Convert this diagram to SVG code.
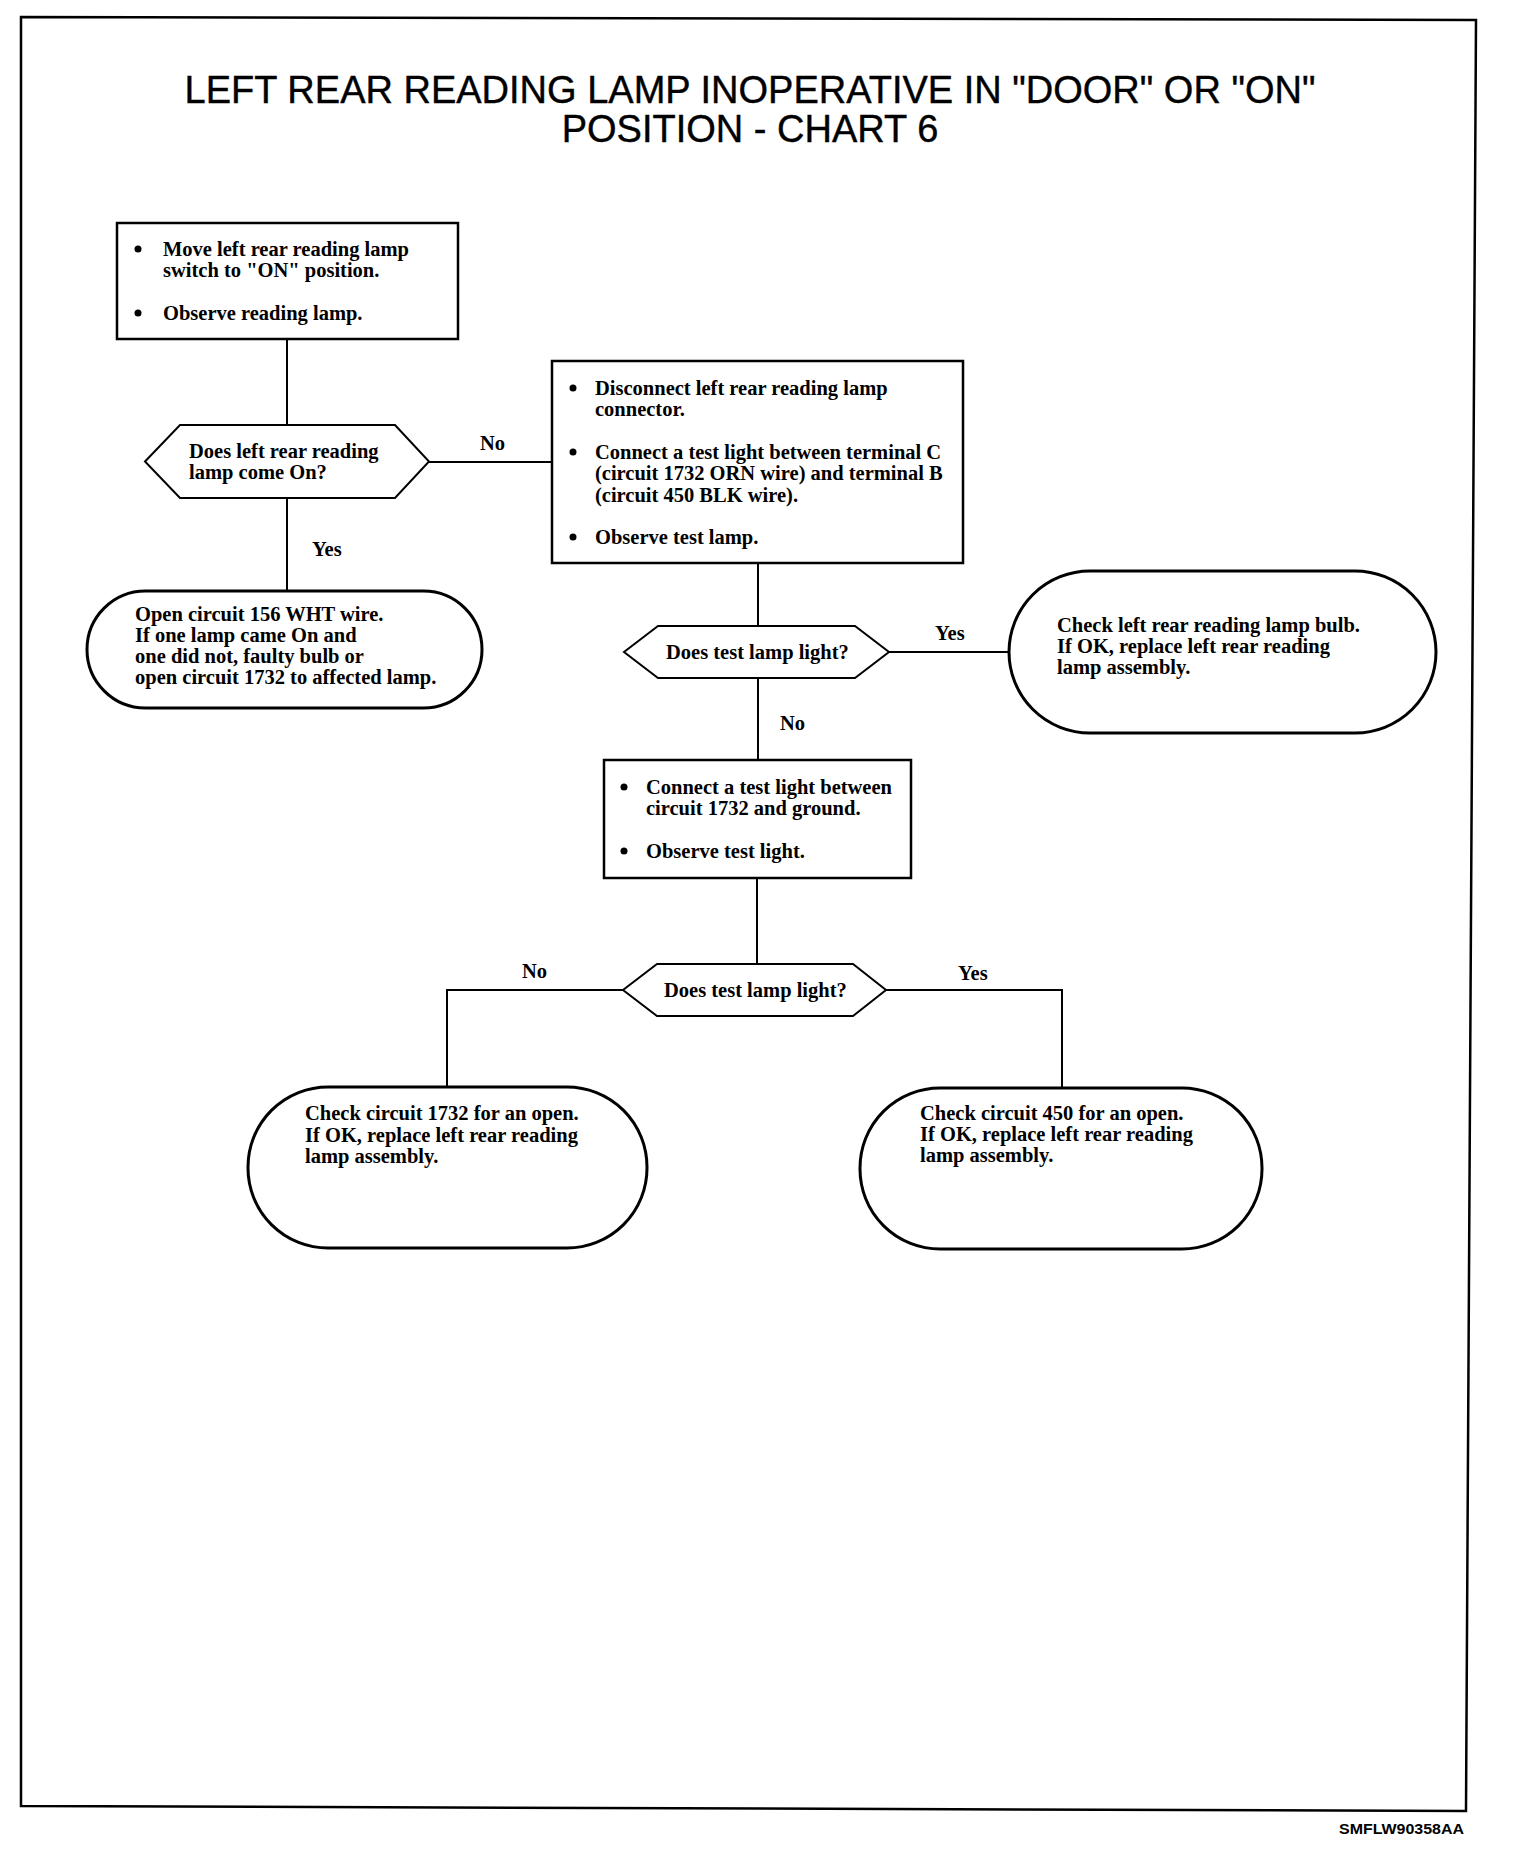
<svg xmlns="http://www.w3.org/2000/svg" width="1520" height="1850" viewBox="0 0 1520 1850">
<style>
.bg{fill:#fff}
.frame{fill:none;stroke:#000;stroke-width:2.5}
.box{fill:#fff;stroke:#000;stroke-width:2.5}
.term{fill:#fff;stroke:#000;stroke-width:3}
.dec{fill:#fff;stroke:#000;stroke-width:2}
.con{fill:none;stroke:#000;stroke-width:2}
.t{font-family:"Liberation Serif","Times New Roman",serif;font-weight:bold;font-size:20.5px;fill:#000}
.title{font-family:"Liberation Sans",Arial,sans-serif;font-size:38px;fill:#000;stroke:#000;stroke-width:0.4;text-anchor:middle}
.code{font-family:"Liberation Sans",Arial,sans-serif;font-weight:bold;font-size:14px;fill:#000;text-anchor:end}
</style>
<rect class="bg" x="0" y="0" width="1520" height="1850"/>
<polygon class="frame" points="21,17 1476,20 1466,1811 21,1806"/>
<g id="title">
<text class="title" x="750" y="103">LEFT REAR READING LAMP INOPERATIVE IN "DOOR" OR "ON"</text>
<text class="title" x="750" y="142">POSITION - CHART 6</text>
</g>
<g id="connectors">
<line class="con" x1="287" y1="339" x2="287" y2="425"/>
<line class="con" x1="287" y1="498" x2="287" y2="591"/>
<line class="con" x1="429" y1="462" x2="552" y2="462"/>
<line class="con" x1="758" y1="563" x2="758" y2="626"/>
<line class="con" x1="889" y1="652" x2="1009" y2="652"/>
<line class="con" x1="758" y1="678" x2="758" y2="760"/>
<line class="con" x1="757" y1="878" x2="757" y2="964"/>
<polyline class="con" points="623,990 447,990 447,1087"/>
<polyline class="con" points="886,990 1062,990 1062,1088"/>
<text class="t" x="480" y="450">No</text>
<text class="t" x="312" y="556">Yes</text>
<text class="t" x="935" y="640">Yes</text>
<text class="t" x="780" y="730">No</text>
<text class="t" x="522" y="978">No</text>
<text class="t" x="958" y="980">Yes</text>
</g>
<g id="step1">
<rect class="box" x="117" y="223" width="341" height="116"/>
<circle cx="138" cy="249" r="3.5"/>
<text class="t" x="163" y="256">Move left rear reading lamp</text>
<text class="t" x="163" y="277">switch to "ON" position.</text>
<circle cx="138" cy="313" r="3.5"/>
<text class="t" x="163" y="320">Observe reading lamp.</text>
</g>
<g id="decision1">
<polygon class="dec" points="145,461.5 180,425 395,425 429,461.5 395,498 180,498"/>
<text class="t" x="189" y="458">Does left rear reading</text>
<text class="t" x="189" y="479">lamp come On?</text>
</g>
<g id="result1">
<rect class="term" x="87" y="591" width="395" height="117" rx="58.5" ry="58.5"/>
<text class="t" x="135" y="621">Open circuit 156 WHT wire.</text>
<text class="t" x="135" y="642">If one lamp came On and</text>
<text class="t" x="135" y="663">one did not, faulty bulb or</text>
<text class="t" x="135" y="684">open circuit 1732 to affected lamp.</text>
</g>
<g id="step2">
<rect class="box" x="552" y="361" width="411" height="202"/>
<circle cx="573" cy="388" r="3.5"/>
<text class="t" x="595" y="395">Disconnect left rear reading lamp</text>
<text class="t" x="595" y="416">connector.</text>
<circle cx="573" cy="452" r="3.5"/>
<text class="t" x="595" y="459">Connect a test light between terminal C</text>
<text class="t" x="595" y="480">(circuit 1732 ORN wire) and terminal B</text>
<text class="t" x="595" y="502">(circuit 450 BLK wire).</text>
<circle cx="573" cy="537" r="3.5"/>
<text class="t" x="595" y="544">Observe test lamp.</text>
</g>
<g id="decision2">
<polygon class="dec" points="624,652 658,626 855,626 889,652 855,678 658,678"/>
<text class="t" x="666" y="659">Does test lamp light?</text>
</g>
<g id="result2">
<rect class="term" x="1009" y="571" width="427" height="162" rx="81" ry="81"/>
<text class="t" x="1057" y="632">Check left rear reading lamp bulb.</text>
<text class="t" x="1057" y="653">If OK, replace left rear reading</text>
<text class="t" x="1057" y="674">lamp assembly.</text>
</g>
<g id="step3">
<rect class="box" x="604" y="760" width="307" height="118"/>
<circle cx="624" cy="787" r="3.5"/>
<text class="t" x="646" y="794">Connect a test light between</text>
<text class="t" x="646" y="815">circuit 1732 and ground.</text>
<circle cx="624" cy="851" r="3.5"/>
<text class="t" x="646" y="858">Observe test light.</text>
</g>
<g id="decision3">
<polygon class="dec" points="623,990 657,964 853,964 886,990 853,1016 657,1016"/>
<text class="t" x="664" y="997">Does test lamp light?</text>
</g>
<g id="result3">
<rect class="term" x="248" y="1087" width="399" height="161" rx="80" ry="80"/>
<text class="t" x="305" y="1120">Check circuit 1732 for an open.</text>
<text class="t" x="305" y="1142">If OK, replace left rear reading</text>
<text class="t" x="305" y="1163">lamp assembly.</text>
</g>
<g id="result4">
<rect class="term" x="860" y="1088" width="402" height="161" rx="80" ry="80"/>
<text class="t" x="920" y="1120">Check circuit 450 for an open.</text>
<text class="t" x="920" y="1141">If OK, replace left rear reading</text>
<text class="t" x="920" y="1162">lamp assembly.</text>
</g>
<text class="code" x="1464" y="1834" textLength="125" lengthAdjust="spacingAndGlyphs">SMFLW90358AA</text>
</svg>
